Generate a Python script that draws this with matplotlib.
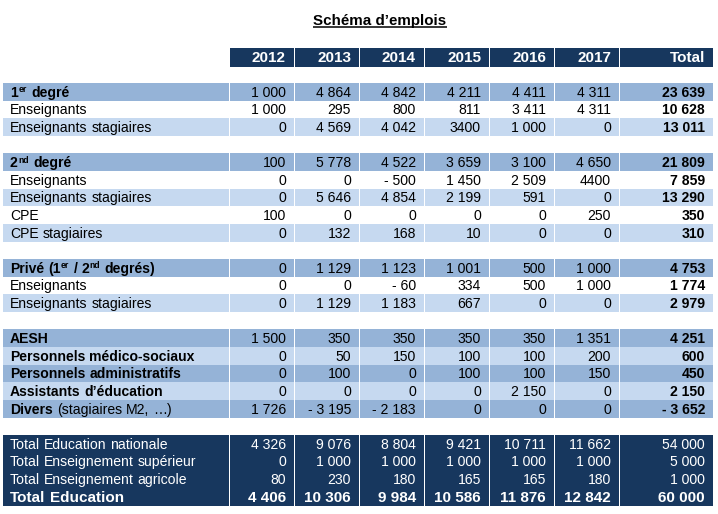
import re
import matplotlib
matplotlib.use("Agg")
import matplotlib.pyplot as plt
from matplotlib.patches import Rectangle

plt.rcParams["font.family"] = ["Liberation Sans", "DejaVu Sans"]

# ---------------- data ----------------
title = "Schéma d’emplois"
col_headers = ["2012", "2013", "2014", "2015", "2016", "2017", "Total"]

row_labels = [
    "1^{er} degré", "Enseignants", "Enseignants stagiaires",
    "2^{nd} degré", "Enseignants", "Enseignants stagiaires", "CPE", "CPE stagiaires",
    "Privé (1^{er} / 2^{nd} degrés)", "Enseignants", "Enseignants stagiaires",
    "AESH", "Personnels médico-sociaux", "Personnels administratifs",
    "Assistants d’éducation", "*Divers* (stagiaires M2, …)",
    "Total Education nationale", "Total Enseignement supérieur",
    "Total Enseignement agricole", "Total Education",
]

v2012 = [1000, 1000, 0, 100, 0, 0, 100, 0, 0, 0, 0, 1500, 0, 0, 0, 1726, 4326, 0, 80, 4406]
v2013 = [4864, 295, 4569, 5778, 0, 5646, 0, 132, 1129, 0, 1129, 350, 50, 100, 0, -3195, 9076, 1000, 230, 10306]
v2014 = [4842, 800, 4042, 4522, -500, 4854, 0, 168, 1123, -60, 1183, 350, 150, 0, 0, -2183, 8804, 1000, 180, 9984]
v2015 = [4211, 811, 3400, 3659, 1450, 2199, 0, 10, 1001, 334, 667, 350, 100, 100, 0, 0, 9421, 1000, 165, 10586]
v2016 = [4411, 3411, 1000, 3100, 2509, 591, 0, 0, 500, 500, 0, 350, 100, 100, 2150, 0, 10711, 1000, 165, 11876]
v2017 = [4311, 4311, 0, 4650, 4400, 0, 250, 0, 1000, 1000, 0, 1351, 200, 150, 0, 0, 11662, 1000, 180, 12842]
totals = [23639, 10628, 13011, 21809, 7859, 13290, 350, 310, 4753, 1774, 2979,
          4251, 600, 450, 2150, -3652, 54000, 5000, 1000, 60000]
columns = [v2012, v2013, v2014, v2015, v2016, v2017, totals]

# cells written without thousands separator in the source
unspaced = [(2, 3), (4, 5)]

# ---------------- layout / style ----------------
grid_rows = [0, 1, 2, 4, 5, 6, 7, 8, 10, 11, 12, 14, 15, 16, 17, 18, 20, 21, 22, 23]
row_style = ["mid", "white", "light", "mid", "white", "light", "white", "light",
             "mid", "white", "light", "mid", "light", "mid", "light", "mid",
             "dark", "dark", "dark", "dark"]
label_bold = [True, False, False, True, False, False, False, False, True, False, False,
              True, True, True, True, False, False, False, False, True]

MID, LIGHT, DARK = "#95B3D7", "#C6D9F0", "#17375E"
fills = {"mid": MID, "light": LIGHT, "white": "white", "dark": DARK}

W, H = 718, 514
fig = plt.figure(figsize=(W / 100, H / 100), dpi=100)
ax = fig.add_axes([0, 0, 1, 1])
ax.set_xlim(0, W)
ax.set_ylim(H, 0)
ax.axis("off")
renderer = fig.canvas.get_renderer()

edges = [3, 229, 294, 359, 424, 489, 554, 619, 713]
y0, rh = 83.0, 17.6
FS = 10.1
PAD_R = 8


def fmt(v, plain=False):
    s = f"{abs(v)}" if plain else f"{abs(v):,}".replace(",", " ")
    return ("- " + s) if v < 0 else s


def width_of(s, fs, weight="normal"):
    t = ax.text(0, 0, s, fontsize=fs, fontweight=weight)
    bb = t.get_window_extent(renderer)
    t.remove()
    return bb.x1 - bb.x0


def rich_label(x, y, label, bold, color, fs):
    weight = "bold" if bold else "normal"
    space = width_of("a a", fs, weight) - width_of("aa", fs, weight)
    tokens = re.findall(r"\^\{[^}]*\}|\*[^*]*\*|\s+|[^\s\^\*]+", label)
    for tok in tokens:
        if tok.isspace():
            x += space * len(tok)
            continue
        sup = tok.startswith("^{")
        b = bold
        txt = tok
        if sup:
            txt = tok[2:-1]
        elif tok.startswith("*"):
            txt = tok[1:-1]
            b = True
        t = ax.text(x + (0.6 if sup else 0), y - (4.6 if sup else 0), txt,
                    fontsize=fs * (0.62 if sup else 1.0),
                    fontweight="bold" if b else "normal", color=color,
                    ha="left", va="baseline")
        bb = t.get_window_extent(renderer)
        x = x + (bb.x1 - bb.x0) + (1.0 if sup else 0)


# title
tt = ax.text(380, 24.5, title, fontsize=10.9, fontweight="bold", ha="center", va="baseline")
bb = tt.get_window_extent(renderer)
ax.plot([bb.x0, bb.x1], [27.3, 27.3], color="black", lw=1.1, solid_capstyle="butt")

# header
hy, hh = 47.8, 18.8
for j, h in enumerate(col_headers):
    l, r = edges[j + 1] + 1, edges[j + 2]
    ax.add_patch(Rectangle((l, hy), r - l, hh, facecolor=DARK, edgecolor="none"))
    ax.text(r - PAD_R, hy + 14.3, h, fontsize=11.0, fontweight="bold",
            color="white", ha="right", va="baseline")

# body
for i, label in enumerate(row_labels):
    top = y0 + grid_rows[i] * rh
    style = row_style[i]
    fc = fills[style]
    for c in range(len(edges) - 1):
        l = edges[c] + (1 if c > 0 else 0)
        r = edges[c + 1]
        ax.add_patch(Rectangle((l, top), r - l, rh + 0.3, facecolor=fc, edgecolor="none"))
    dark = style == "dark"
    color = "white" if dark else "black"
    last = i == len(row_labels) - 1
    fs = 11.0 if last else FS
    base = top + 13.8
    rich_label(edges[0] + 7, base, label, label_bold[i], color, fs)
    for j, col in enumerate(columns):
        r = edges[j + 2]
        is_total = j == len(columns) - 1
        bold = last or (is_total and not dark)
        ax.text(r - PAD_R, base, fmt(col[i], (i, j) in unspaced), fontsize=fs,
                fontweight="bold" if bold else "normal", color=color,
                ha="right", va="baseline")

fig.savefig("out.png", dpi=100)
